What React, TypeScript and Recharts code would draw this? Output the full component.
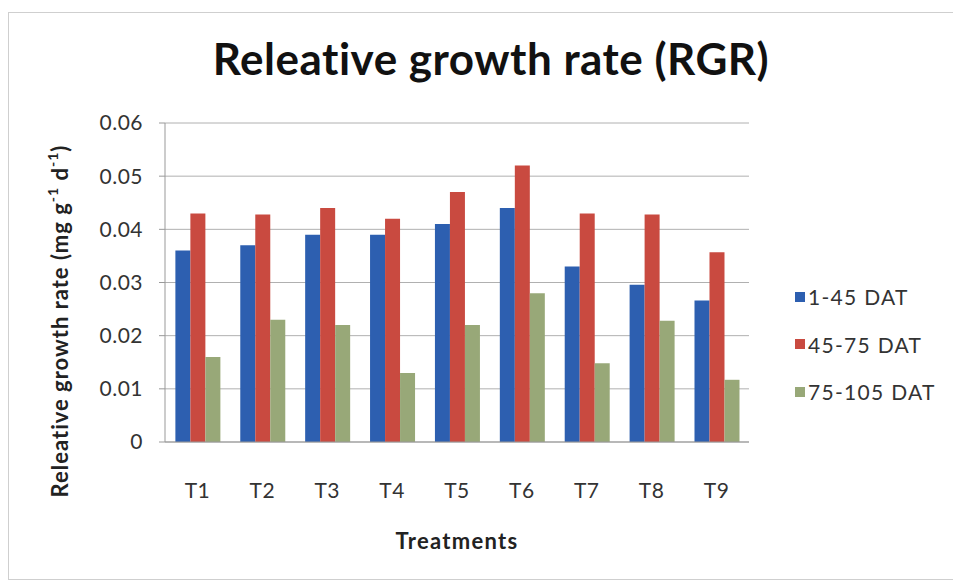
import { BarChart, Bar, XAxis, YAxis, CartesianGrid, Legend, Label } from 'recharts';

const treatments = ['T1', 'T2', 'T3', 'T4', 'T5', 'T6', 'T7', 'T8', 'T9'];
const dat1to45 = [0.036, 0.037, 0.039, 0.039, 0.041, 0.044, 0.033, 0.0296, 0.0266];
const dat45to75 = [0.043, 0.0428, 0.044, 0.042, 0.047, 0.052, 0.043, 0.0428, 0.0357];
const dat75to105 = [0.016, 0.023, 0.022, 0.013, 0.022, 0.028, 0.0148, 0.0228, 0.0117];
const yTicks = [0, 0.01, 0.02, 0.03, 0.04, 0.05, 0.06];

const series = [
  { key: 'a', name: '1-45 DAT', color: '#2d5fb0' },
  { key: 'b', name: '45-75 DAT', color: '#c94a40' },
  { key: 'c', name: '75-105 DAT', color: '#98a878' },
];

const data = treatments.map((t, i) => ({
  name: t,
  a: dat1to45[i],
  b: dat45to75[i],
  c: dat75to105[i],
}));

const FONT = 'Lato, "Open Sans", sans-serif';

function LegendBox() {
  return (
    <div style={{ fontFamily: FONT, fontSize: 21, letterSpacing: 1.3, color: '#333' }}>
      {series.map((s) => (
        <div key={s.key} style={{ display: 'flex', alignItems: 'center', height: 47.5 }}>
          <span style={{ width: 10, height: 10, background: s.color, marginRight: 3, display: 'inline-block' }} />
          <span>{s.name}</span>
        </div>
      ))}
    </div>
  );
}

function YLabel() {
  return (
    <text
      x={53}
      y={308}
      transform="rotate(-90 53 308)"
      textAnchor="middle"
      dominantBaseline="middle"
      fontFamily={FONT}
      fontSize={22}
      fontWeight="bold"
      letterSpacing={1}
      fill="#222"
    >
      Releative growth rate (mg g
      <tspan fontSize={14} dy={-8}>-1</tspan>
      <tspan dy={8}> d</tspan>
      <tspan fontSize={14} dy={-8}>-1</tspan>
      <tspan dy={8}>)</tspan>
    </text>
  );
}

export default function App() {
  return (
    <div
      style={{
        position: 'relative',
        width: 947,
        height: 568,
        marginTop: 4,
        border: '1px solid #cfcfcf',
        background: '#fff',
        boxSizing: 'border-box',
      }}
    >
      <div
        style={{
          position: 'absolute',
          top: 23,
          left: 0,
          width: 964,
          textAlign: 'center',
          fontFamily: FONT,
          fontWeight: 'bold',
          fontSize: 44,
          lineHeight: '44px',
          letterSpacing: 0.5,
          color: '#111',
          zIndex: 1,
        }}
      >
        Releative growth rate (RGR)
      </div>
      <BarChart
        width={945}
        height={566}
        data={data}
        margin={{ top: 110, left: 86, right: 55, bottom: 37 }}
        barCategoryGap="16%"
        barGap={0}
      >
        <CartesianGrid vertical={false} stroke="#b0b0b0" />
        <XAxis
          dataKey="name"
          height={100}
          tickLine={false}
          tickMargin={35}
          stroke="#999"
          tick={{ fontFamily: FONT, fontSize: 21, letterSpacing: 0.5, fill: '#333' }}
        >
          <Label
            value="Treatments"
            position="insideBottom"
            offset={-7}
            style={{ fontFamily: FONT, fontSize: 22, letterSpacing: 1.3, fontWeight: 'bold', fill: '#222' }}
          />
        </XAxis>
        <YAxis
          width={70}
          domain={[0, 0.06]}
          ticks={yTicks}
          tickSize={6}
          tickMargin={16}
          stroke="#999"
          tickFormatter={(v: number) => (v === 0 ? '0' : v.toFixed(2))}
          tick={{ fontFamily: FONT, fontSize: 21, letterSpacing: 0.5, fill: '#333' }}
        />
        <Legend
          layout="vertical"
          align="right"
          verticalAlign="top"
          content={<LegendBox />}
          wrapperStyle={{ top: 260, left: 786, width: 150 }}
        />
        {series.map((s) => (
          <Bar key={s.key} dataKey={s.key} name={s.name} fill={s.color} isAnimationActive={false} />
        ))}
        <YLabel />
      </BarChart>
    </div>
  );
}
